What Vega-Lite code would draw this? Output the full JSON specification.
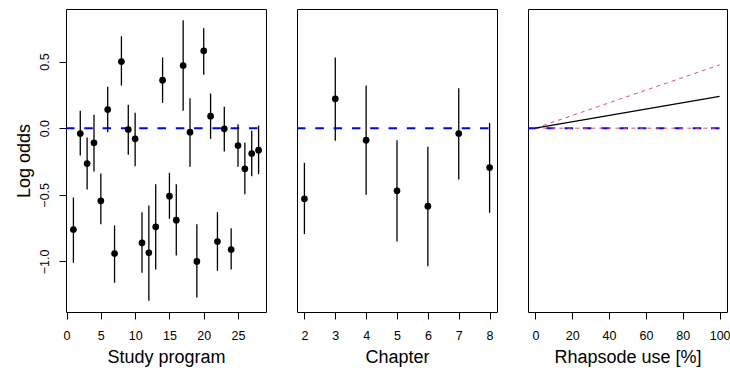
{
  "$schema": "https://vega.github.io/schema/vega-lite/v6.json",
  "autosize": {"type": "pad"},
  "padding": {"left": 14, "top": 8, "right": 0, "bottom": 3},
  "spacing": 29,
  "config": {
    "view": {"stroke": "black", "strokeWidth": 1},
    "font": "Liberation Sans",
    "axis": {
      "grid": false, "domain": false, "ticks": true, "tickColor": "black", "tickSize": 7, "tickWidth": 1,
      "labelFont": "Liberation Sans", "labelFontSize": 12.5, "labelColor": "black",
      "titleFont": "Liberation Sans", "titleFontSize": 18, "titleFontWeight": "normal", "titleColor": "black",
      "labelFlush": false, "labelOverlap": false
    }
  },
  "datasets": {
    "programs": [
      {"program": 1, "est": -0.76, "lo": -1.01, "hi": -0.52},
      {"program": 2, "est": -0.04, "lo": -0.205, "hi": 0.13},
      {"program": 3, "est": -0.265, "lo": -0.46, "hi": -0.07},
      {"program": 4, "est": -0.11, "lo": -0.325, "hi": 0.10},
      {"program": 5, "est": -0.545, "lo": -0.72, "hi": -0.34},
      {"program": 6, "est": 0.14, "lo": -0.03, "hi": 0.31},
      {"program": 7, "est": -0.94, "lo": -1.16, "hi": -0.73},
      {"program": 8, "est": 0.50, "lo": 0.32, "hi": 0.69},
      {"program": 9, "est": -0.01, "lo": -0.20, "hi": 0.175},
      {"program": 10, "est": -0.08, "lo": -0.285, "hi": 0.115},
      {"program": 11, "est": -0.86, "lo": -1.085, "hi": -0.63},
      {"program": 12, "est": -0.935, "lo": -1.295, "hi": -0.58},
      {"program": 13, "est": -0.74, "lo": -1.06, "hi": -0.42},
      {"program": 14, "est": 0.36, "lo": 0.19, "hi": 0.53},
      {"program": 15, "est": -0.51, "lo": -0.68, "hi": -0.335},
      {"program": 16, "est": -0.69, "lo": -0.955, "hi": -0.42},
      {"program": 17, "est": 0.47, "lo": 0.13, "hi": 0.81},
      {"program": 18, "est": -0.03, "lo": -0.29, "hi": 0.225},
      {"program": 19, "est": -1.0, "lo": -1.27, "hi": -0.72},
      {"program": 20, "est": 0.58, "lo": 0.40, "hi": 0.75},
      {"program": 21, "est": 0.09, "lo": -0.08, "hi": 0.26},
      {"program": 22, "est": -0.85, "lo": -1.07, "hi": -0.63},
      {"program": 23, "est": -0.005, "lo": -0.175, "hi": 0.16},
      {"program": 24, "est": -0.91, "lo": -1.06, "hi": -0.75},
      {"program": 25, "est": -0.13, "lo": -0.29, "hi": 0.03},
      {"program": 26, "est": -0.305, "lo": -0.495, "hi": -0.11},
      {"program": 27, "est": -0.19, "lo": -0.36, "hi": -0.02},
      {"program": 28, "est": -0.165, "lo": -0.345, "hi": 0.02}
    ],
    "chapters": [
      {"chapter": 2, "est": -0.53, "lo": -0.795, "hi": -0.26},
      {"chapter": 3, "est": 0.22, "lo": -0.095, "hi": 0.53},
      {"chapter": 4, "est": -0.09, "lo": -0.50, "hi": 0.32},
      {"chapter": 5, "est": -0.47, "lo": -0.85, "hi": -0.09},
      {"chapter": 6, "est": -0.585, "lo": -1.035, "hi": -0.14},
      {"chapter": 7, "est": -0.04, "lo": -0.385, "hi": 0.30},
      {"chapter": 8, "est": -0.295, "lo": -0.635, "hi": 0.04}
    ],
    "zero1": [{"x": -0.08, "y": 0}, {"x": 28, "y": 0}],
    "zero2": [{"x": 1.76, "y": 0}, {"x": 8, "y": 0}],
    "zero3": [{"x": -4, "y": 0}, {"x": 100, "y": 0}],
    "fit": [{"use": 0, "value": 0}, {"use": 100, "value": 0.238}],
    "band": [
      {"use": 0, "value": 0, "bound": "upper"},
      {"use": 100, "value": 0.475, "bound": "upper"},
      {"use": 0, "value": 0, "bound": "lower"},
      {"use": 100, "value": 0, "bound": "lower"}
    ]
  },
  "hconcat": [
    {
      "width": 200, "height": 303,
      "layer": [
        {
          "data": {"name": "zero1"},
          "mark": {"type": "line", "color": "#0000FF", "strokeWidth": 2, "strokeDash": [8.5, 9.8], "clip": true},
          "encoding": {
            "x": {"field": "x", "type": "quantitative", "title": "Study program",
              "scale": {"domain": [-0.08, 29.08], "nice": false, "zero": false},
              "axis": {"values": [0, 5, 10, 15, 20, 25], "labelAngle": 0, "labelBaseline": "alphabetic", "labelPadding": 20, "titleY": 50, "titleBaseline": "alphabetic"}},
            "y": {"field": "y", "type": "quantitative", "title": "Log odds",
              "scale": {"domain": [-1.379, 0.894], "nice": false, "zero": false},
              "axis": {"values": [-1, -0.5, 0, 0.5], "format": ".1f", "labelAngle": -90, "labelAlign": "center", "labelBaseline": "alphabetic", "labelPadding": 10.3, "titleX": -37, "titleY": 151.5, "titleAngle": -90, "titleAlign": "center", "titleBaseline": "alphabetic"}}
          }
        },
        {
          "data": {"name": "programs"},
          "mark": {"type": "rule", "color": "black", "strokeWidth": 1.3},
          "encoding": {
            "x": {"field": "program", "type": "quantitative", "title": "Study program",
              "axis": {"values": [0, 5, 10, 15, 20, 25], "labelAngle": 0, "labelBaseline": "alphabetic", "labelPadding": 20, "titleY": 50, "titleBaseline": "alphabetic"}},
            "y": {"field": "lo", "type": "quantitative", "title": "Log odds",
              "axis": {"values": [-1, -0.5, 0, 0.5], "format": ".1f", "labelAngle": -90, "labelAlign": "center", "labelBaseline": "alphabetic", "labelPadding": 10.3, "titleX": -37, "titleY": 151.5, "titleAngle": -90, "titleAlign": "center", "titleBaseline": "alphabetic"}},
            "y2": {"field": "hi"}
          }
        },
        {
          "data": {"name": "programs"},
          "mark": {"type": "point", "filled": true, "shape": "circle", "color": "black", "size": 45, "opacity": 1},
          "encoding": {
            "x": {"field": "program", "type": "quantitative", "title": "Study program",
              "axis": {"values": [0, 5, 10, 15, 20, 25], "labelAngle": 0, "labelBaseline": "alphabetic", "labelPadding": 20, "titleY": 50, "titleBaseline": "alphabetic"}},
            "y": {"field": "est", "type": "quantitative", "title": "Log odds",
              "axis": {"values": [-1, -0.5, 0, 0.5], "format": ".1f", "labelAngle": -90, "labelAlign": "center", "labelBaseline": "alphabetic", "labelPadding": 10.3, "titleX": -37, "titleY": 151.5, "titleAngle": -90, "titleAlign": "center", "titleBaseline": "alphabetic"}}
          }
        }
      ]
    },
    {
      "width": 200, "height": 303,
      "layer": [
        {
          "data": {"name": "zero2"},
          "mark": {"type": "line", "color": "#0000FF", "strokeWidth": 2, "strokeDash": [8.5, 9.8], "clip": true},
          "encoding": {
            "x": {"field": "x", "type": "quantitative", "title": "Chapter",
              "scale": {"domain": [1.76, 8.24], "nice": false, "zero": false},
              "axis": {"values": [2, 3, 4, 5, 6, 7, 8], "labelAngle": 0, "labelBaseline": "alphabetic", "labelPadding": 20, "titleY": 50, "titleBaseline": "alphabetic"}},
            "y": {"field": "y", "type": "quantitative",
              "scale": {"domain": [-1.379, 0.894], "nice": false, "zero": false},
              "axis": null}
          }
        },
        {
          "data": {"name": "chapters"},
          "mark": {"type": "rule", "color": "black", "strokeWidth": 1.3},
          "encoding": {
            "x": {"field": "chapter", "type": "quantitative", "title": "Chapter",
              "axis": {"values": [2, 3, 4, 5, 6, 7, 8], "labelAngle": 0, "labelBaseline": "alphabetic", "labelPadding": 20, "titleY": 50, "titleBaseline": "alphabetic"}},
            "y": {"field": "lo", "type": "quantitative", "axis": null},
            "y2": {"field": "hi"}
          }
        },
        {
          "data": {"name": "chapters"},
          "mark": {"type": "point", "filled": true, "shape": "circle", "color": "black", "size": 45, "opacity": 1},
          "encoding": {
            "x": {"field": "chapter", "type": "quantitative", "title": "Chapter",
              "axis": {"values": [2, 3, 4, 5, 6, 7, 8], "labelAngle": 0, "labelBaseline": "alphabetic", "labelPadding": 20, "titleY": 50, "titleBaseline": "alphabetic"}},
            "y": {"field": "est", "type": "quantitative", "axis": null}
          }
        }
      ]
    },
    {
      "width": 199, "height": 303,
      "layer": [
        {
          "data": {"name": "zero3"},
          "mark": {"type": "line", "color": "#0000FF", "strokeWidth": 2, "strokeDash": [8.5, 9.8], "clip": true},
          "encoding": {
            "x": {"field": "x", "type": "quantitative", "title": "Rhapsode use [%]",
              "scale": {"domain": [-4, 104], "nice": false, "zero": false},
              "axis": {"values": [0, 20, 40, 60, 80, 100], "labelAngle": 0, "labelBaseline": "alphabetic", "labelPadding": 20, "titleY": 50, "titleBaseline": "alphabetic"}},
            "y": {"field": "y", "type": "quantitative",
              "scale": {"domain": [-1.379, 0.894], "nice": false, "zero": false},
              "axis": null}
          }
        },
        {
          "data": {"name": "band"},
          "mark": {"type": "line", "color": "#DF536B", "strokeWidth": 1, "strokeDash": [4, 4], "clip": true},
          "encoding": {
            "x": {"field": "use", "type": "quantitative", "title": "Rhapsode use [%]",
              "axis": {"values": [0, 20, 40, 60, 80, 100], "labelAngle": 0, "labelBaseline": "alphabetic", "labelPadding": 20, "titleY": 50, "titleBaseline": "alphabetic"}},
            "y": {"field": "value", "type": "quantitative", "axis": null},
            "detail": {"field": "bound", "type": "nominal"}
          }
        },
        {
          "data": {"name": "fit"},
          "mark": {"type": "line", "color": "black", "strokeWidth": 1.2, "clip": true},
          "encoding": {
            "x": {"field": "use", "type": "quantitative", "title": "Rhapsode use [%]",
              "axis": {"values": [0, 20, 40, 60, 80, 100], "labelAngle": 0, "labelBaseline": "alphabetic", "labelPadding": 20, "titleY": 50, "titleBaseline": "alphabetic"}},
            "y": {"field": "value", "type": "quantitative", "axis": null}
          }
        }
      ]
    }
  ]
}
